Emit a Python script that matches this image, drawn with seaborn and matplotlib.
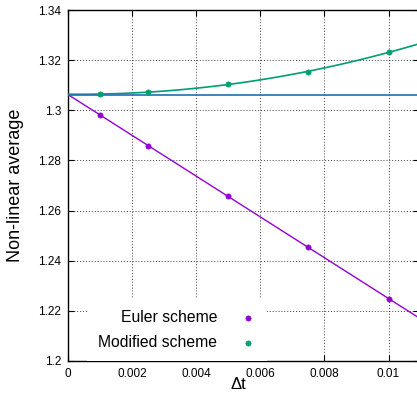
import matplotlib
matplotlib.use('Agg')
import matplotlib.pyplot as plt
import seaborn as sns
import numpy as np

# values
dt = [0.001, 0.0025, 0.005, 0.0075, 0.01]
euler = [1.2981, 1.2858, 1.2658, 1.2455, 1.2247]
modified = [1.3064, 1.3073, 1.3105, 1.3153, 1.3232]
limit_value = 1.3062

x_ticks = [0, 0.002, 0.004, 0.006, 0.008, 0.01]
y_ticks = [1.2, 1.22, 1.24, 1.26, 1.28, 1.3, 1.32, 1.34]

purple = '#9400d3'
green = '#009e73'
blue = '#1f6fb0'

sns.set_style('ticks', {'text.color': 'black', 'axes.labelcolor': 'black',
                        'xtick.color': 'black', 'ytick.color': 'black'})
plt.rcParams['font.family'] = ['Liberation Sans', 'DejaVu Sans']

fig = plt.figure(figsize=(4.17, 3.96), dpi=100)
ax = fig.add_axes([0.163, 0.0884, 0.837 + 0.004, 0.8863])
ax.set_xlim(0, 0.01094)
ax.set_ylim(1.2, 1.34)

# fitted curves (seaborn regression, extended over the full x range)
sns.regplot(x=dt, y=euler, order=1, ci=None, scatter=False, truncate=False,
            ax=ax, line_kws={'color': purple, 'lw': 1.0, 'zorder': 3})
sns.regplot(x=dt, y=modified, order=2, ci=None, scatter=False, truncate=False,
            ax=ax, line_kws={'color': green, 'lw': 1.2, 'zorder': 3})
ax.axhline(limit_value, color=blue, lw=1.2, zorder=3)

sns.scatterplot(x=dt, y=euler, ax=ax, color=purple, marker='o', s=14,
                edgecolor=purple, linewidth=0.5, label='Euler scheme', zorder=4)
sns.scatterplot(x=dt, y=modified, ax=ax, color=green, marker='o', s=14,
                edgecolor=green, linewidth=0.5, label='Modified scheme', zorder=4)

ax.set_xlim(0, 0.01094)
ax.set_ylim(1.2, 1.34)
ax.set_xticks(x_ticks)
ax.set_yticks(y_ticks)
ax.set_xticklabels([f'{v:g}' for v in x_ticks])
ax.set_yticklabels([f'{v:g}' for v in y_ticks])
ax.tick_params(direction='in', top=True, right=True, labelsize=8.5,
               length=4, width=0.8, pad=5, colors='black')
ax.grid(True, color='black', linestyle=(0, (1, 2)), linewidth=0.7, alpha=0.75)
ax.set_axisbelow(True)
for s in ax.spines.values():
    s.set_linewidth(1.0)
    s.set_color('black')

ax.set_xlabel('Δt', fontsize=12, labelpad=1, color='black')
ax.xaxis.set_label_coords(0.485, -0.045)
ax.set_ylabel('Non-linear average', fontsize=13, labelpad=10, color='black')

leg = ax.legend(loc='lower left', bbox_to_anchor=(0.055, 0.0), markerfirst=False,
                frameon=True, fontsize=11.3, handletextpad=1.45, borderpad=0.7,
                labelspacing=0.65, borderaxespad=0.0, fancybox=False,
                handlelength=1.0)
leg.get_frame().set_edgecolor('white')
leg.get_frame().set_facecolor('white')
leg.get_frame().set_alpha(1.0)
leg.get_frame().set_linewidth(0)
for t in leg.get_texts():
    t.set_color('black')

fig.savefig('out.png', dpi=100)
